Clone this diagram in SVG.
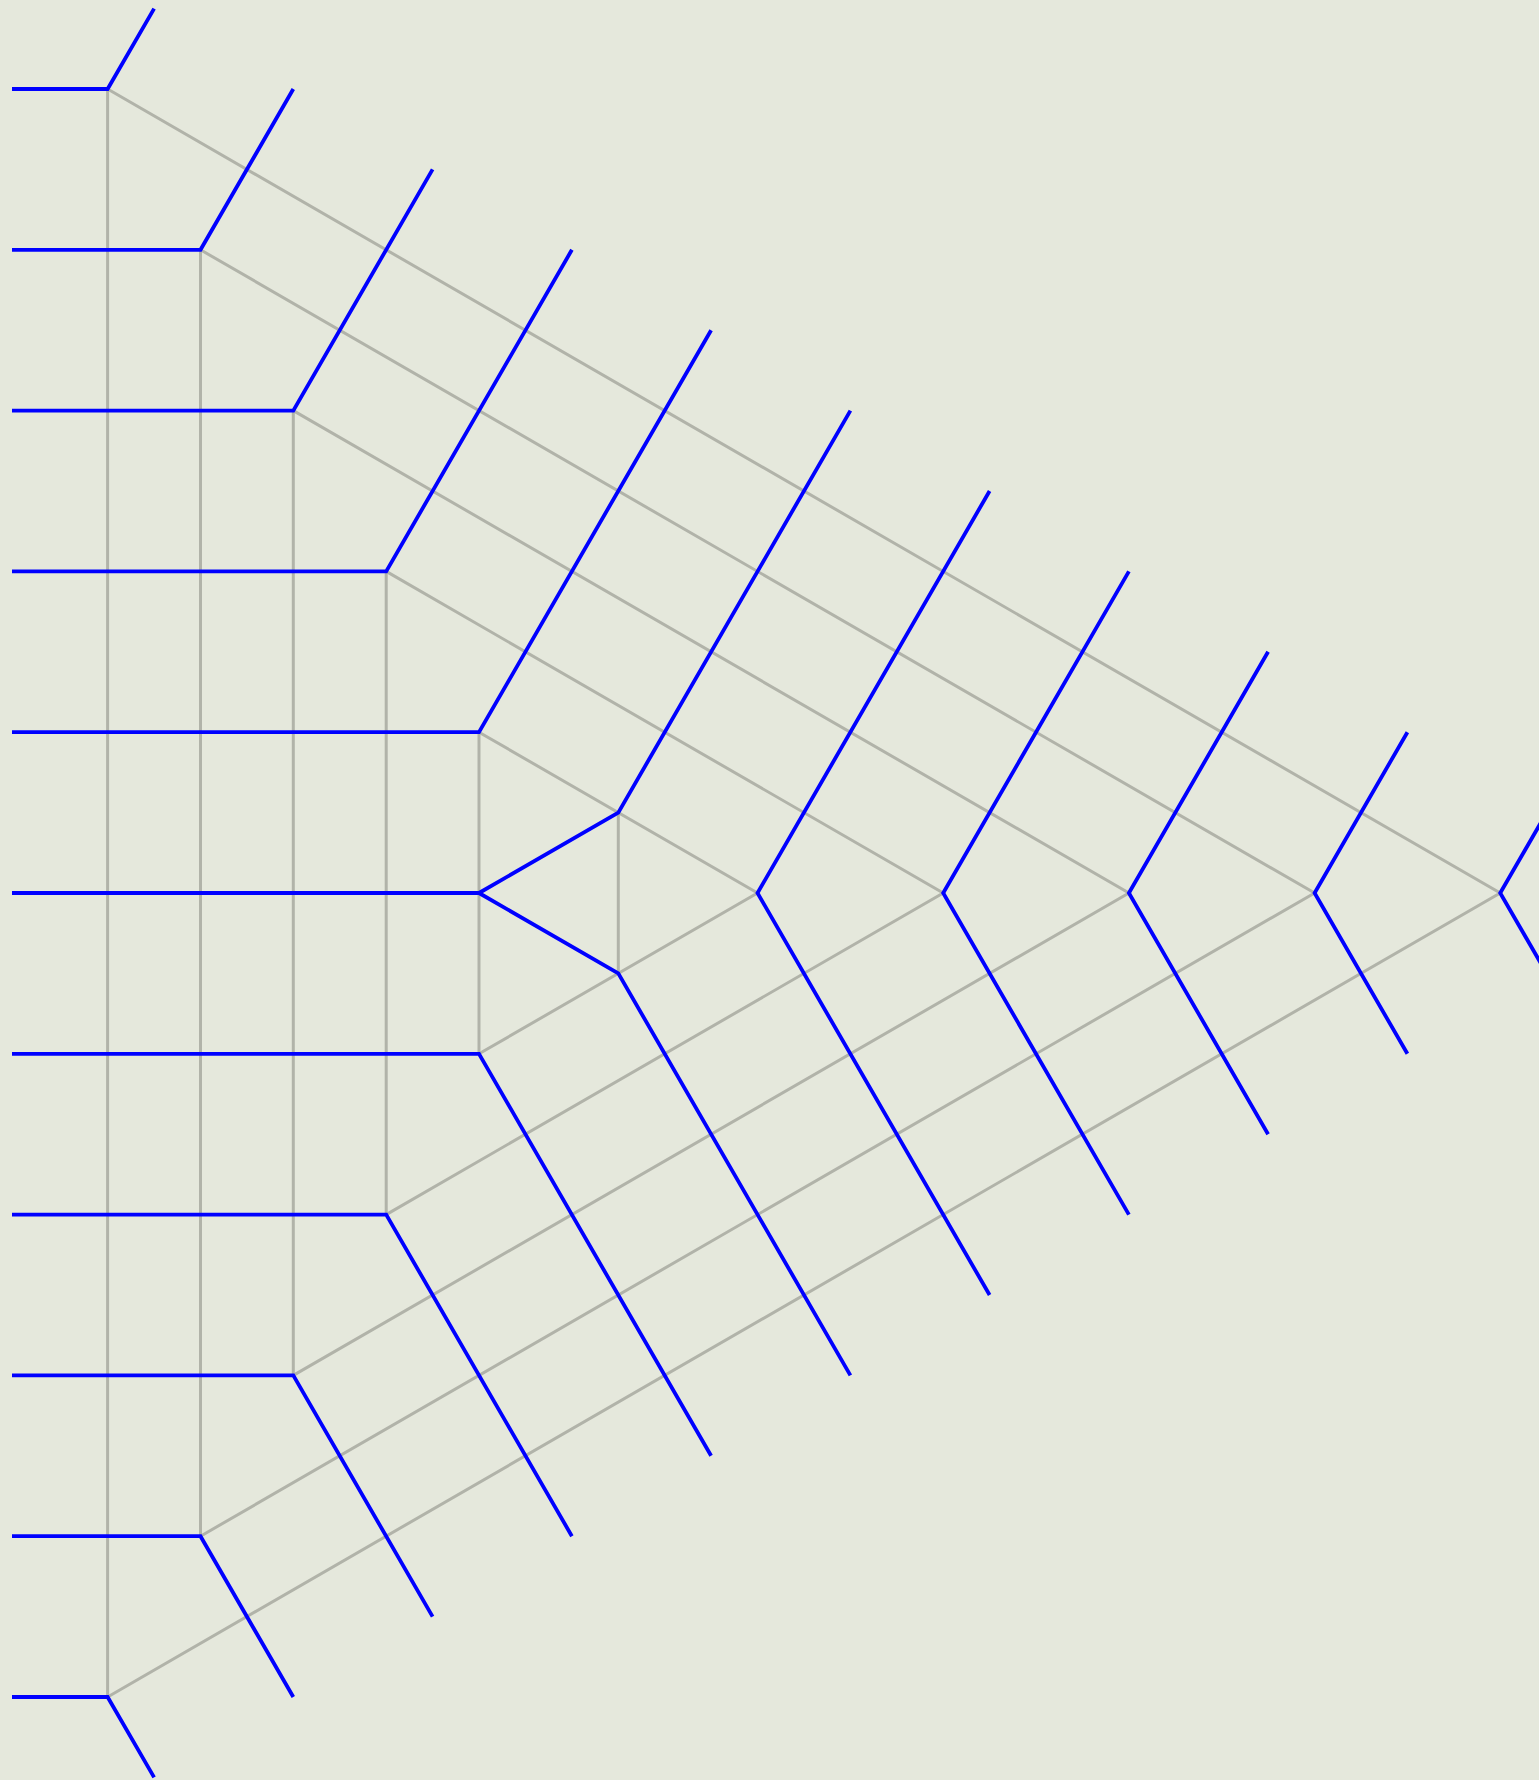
<svg xmlns="http://www.w3.org/2000/svg" width="1539" height="1780" viewBox="0 0 1539 1780">
<style>
.g{fill:none;stroke:#b1b3a9;stroke-width:3}
.b{fill:none;stroke:#0000ff;stroke-width:3.8;stroke-linejoin:miter;stroke-linecap:butt}
</style>
<rect width="1539" height="1780" fill="#e5e8dc"/>
<g id="grey-triangles">
<path class="g" d="M107.6,89V1697M200.5,249.8V1536.2M293.3,410.6V1375.4M386.2,571.4V1214.6M479,732.2V1053.8M618.3,812.6V973.4"/>
<path class="g" d="M107.6,89L1500.2,893L107.6,1697M200.5,249.8L1314.6,893L200.5,1536.2M293.3,410.6L1128.9,893L293.3,1375.4M386.2,571.4L943.2,893L386.2,1214.6M479,732.2L757.5,893L479,1053.8"/>
</g>
<g id="blue-lines">
<polyline class="b" points="12,89 107.6,89 154.1,8.6"/>
<polyline class="b" points="12,249.8 200.5,249.8 293.3,89"/>
<polyline class="b" points="12,410.6 293.3,410.6 432.6,169.4"/>
<polyline class="b" points="12,571.4 386.2,571.4 571.9,249.8"/>
<polyline class="b" points="12,732.2 479,732.2 711.1,330.2"/>
<polyline class="b" points="12,893 479,893 618.3,812.6 850.4,410.6"/>
<polyline class="b" points="479,893 618.3,973.4 850.4,1375.4"/>
<polyline class="b" points="12,1053.8 479,1053.8 711.1,1455.8"/>
<polyline class="b" points="12,1214.6 386.2,1214.6 571.9,1536.2"/>
<polyline class="b" points="12,1375.4 293.3,1375.4 432.6,1616.6"/>
<polyline class="b" points="12,1536.2 200.5,1536.2 293.3,1697"/>
<polyline class="b" points="12,1697 107.6,1697 154.1,1777.4"/>
<polyline class="b" points="989.6,491 757.5,893 989.6,1295"/>
<polyline class="b" points="1128.9,571.4 943.2,893 1128.9,1214.6"/>
<polyline class="b" points="1268.1,651.8 1128.9,893 1268.1,1134.2"/>
<polyline class="b" points="1407.4,732.2 1314.6,893 1407.4,1053.8"/>
<polyline class="b" points="1546.7,812.6 1500.2,893 1546.7,973.4"/>
</g>
</svg>
